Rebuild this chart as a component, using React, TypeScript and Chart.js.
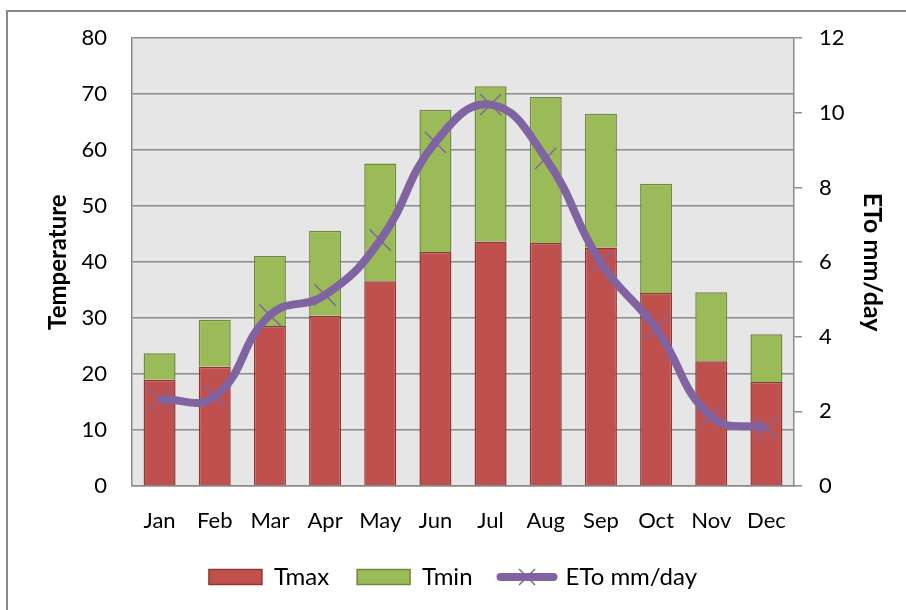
import { useEffect, useRef } from "react";
import { Chart, registerables } from "chart.js";
Chart.register(...registerables);

const months = ["Jan", "Feb", "Mar", "Apr", "May", "Jun", "Jul", "Aug", "Sep", "Oct", "Nov", "Dec"];
const tmax = [19.0, 21.3, 28.6, 30.4, 36.6, 41.8, 43.7, 43.4, 42.6, 34.5, 22.3, 18.6];
const tmin = [4.7, 8.4, 12.5, 15.2, 21.0, 25.4, 27.7, 26.1, 23.9, 19.5, 12.3, 8.5];
const eto = [2.32, 2.4, 4.58, 5.12, 6.59, 9.21, 10.22, 8.78, 5.98, 4.22, 1.86, 1.56];

const FONT = "Lato, 'Open Sans', sans-serif";
const GRID = "#8a8a8a";
const PURPLE = "#8064A2";

export default function App() {
  const ref = useRef<HTMLCanvasElement>(null);
  useEffect(() => {
    if (!ref.current) return;
    const bgPlugin = {
      id: "plotBg",
      beforeDraw(chart: any) {
        const { ctx, chartArea } = chart;
        ctx.save();
        ctx.fillStyle = "#E6E6E6";
        ctx.fillRect(chartArea.left, chartArea.top, chartArea.right - chartArea.left, chartArea.bottom - chartArea.top);
        ctx.restore();
      },
    };
    const legendMarker = {
      id: "legendMarker",
      afterDraw(chart: any) {
        const lg = chart.legend;
        if (!lg || !lg.legendHitBoxes || !lg.legendItems) return;
        const idx = lg.legendItems.findIndex((it: any) => it.datasetIndex === 2);
        const hb = lg.legendHitBoxes[idx];
        if (!hb) return;
        const cx = hb.left + 53 / 2;
        const cy = hb.top + hb.height / 2;
        const r = 8;
        const ctx = chart.ctx;
        ctx.save();
        ctx.strokeStyle = PURPLE;
        ctx.lineWidth = 1.5;
        ctx.beginPath();
        ctx.moveTo(cx - r, cy - r);
        ctx.lineTo(cx + r, cy + r);
        ctx.moveTo(cx - r, cy + r);
        ctx.lineTo(cx + r, cy - r);
        ctx.stroke();
        ctx.restore();
      },
    };
    const chart = new Chart(ref.current, {
      type: "bar",
      data: {
        labels: months,
        datasets: [
          {
            type: "bar",
            label: "Tmax",
            data: tmax,
            backgroundColor: "#C0504D",
            borderColor: "#8C3836",
            borderWidth: 1.5,
            yAxisID: "y",
            stack: "t",
            order: 2,
            barPercentage: 0.58,
            categoryPercentage: 1,
          },
          {
            type: "bar",
            label: "Tmin",
            data: tmin,
            backgroundColor: "#9BBB59",
            borderColor: "#71893F",
            borderWidth: 1.5,
            yAxisID: "y",
            stack: "t",
            order: 2,
            barPercentage: 0.58,
            categoryPercentage: 1,
          },
          {
            type: "line",
            label: "ETo mm/day",
            data: eto,
            borderColor: PURPLE,
            backgroundColor: PURPLE,
            borderWidth: 8,
            tension: 0.45,
            pointStyle: "crossRot",
            pointRadius: 15,
            pointBorderWidth: 1.5,
            pointBorderColor: PURPLE,
            yAxisID: "y1",
            order: 0,
          } as any,
        ],
      },
      options: {
        responsive: false,
        animation: false,
        layout: { padding: { top: 31, bottom: 11, left: 0, right: 0 } },
        font: { family: FONT },
        scales: {
          x: {
            stacked: true,
            grid: { display: false, drawTicks: false },
            border: { display: true, color: GRID, width: 1.5 },
            ticks: { color: "#000", font: { family: FONT, size: 22 }, padding: 22, maxRotation: 0 },
            afterFit: (axis: any) => { axis.height = 51; },
          },
          y: {
            stacked: true,
            position: "left",
            min: 0,
            max: 80,
            ticks: { stepSize: 10, color: "#000", font: { family: FONT, size: 22 }, padding: 25 },
            grid: { color: GRID, lineWidth: 1.5, drawTicks: false },
            border: { display: true, color: GRID, width: 1.5 },
            title: { display: true, text: "Temperature", color: "#000", font: { family: FONT, size: 24, weight: "bold" }, padding: { top: 44, bottom: 0 } },
            afterFit: (axis: any) => { axis.width = 132; },
          },
          y1: {
            position: "right",
            min: 0,
            max: 12,
            ticks: { stepSize: 2, color: "#000", font: { family: FONT, size: 22 }, padding: 17 },
            grid: { drawOnChartArea: false, color: GRID, lineWidth: 1.5, tickLength: 8, drawTicks: true },
            border: { display: true, color: GRID, width: 1.5 },
            title: { display: true, text: "ETo mm/day", color: "#000", font: { family: FONT, size: 25, weight: "bold" }, padding: { top: 19, bottom: 0 } },
            afterFit: (axis: any) => { axis.width = 112; },
          },
        },
        plugins: {
          tooltip: { enabled: false },
          legend: {
            position: "bottom",
            labels: {
              color: "#000",
              font: { family: FONT, size: 24 },
              usePointStyle: true,
              pointStyleWidth: 53,
              boxHeight: 15,
              padding: 28,
              sort: (a: any, b: any) => a.datasetIndex - b.datasetIndex,
              generateLabels: (c: any) => {
                const items = (Chart.defaults.plugins.legend.labels as any).generateLabels(c);
                return items.map((it: any) =>
                  it.datasetIndex === 2
                    ? { ...it, pointStyle: "line", lineWidth: 8, strokeStyle: PURPLE, lineCap: "round" }
                    : { ...it, pointStyle: "rect", lineWidth: 1.5 }
                );
              },
            },
          },
        },
      },
      plugins: [bgPlugin, legendMarker],
    } as any);
    return () => chart.destroy();
  }, []);
  return (
    <div style={{ position: "fixed", left: 0, top: 0, width: 906, height: 610, overflow: "hidden", background: "#fff" }}>
      <div style={{ position: "absolute", left: 6, top: 10, width: 1000, height: 700, border: "2px solid #888" }} />
      <canvas ref={ref} width={906} height={610} style={{ position: "absolute", left: 0, top: 0 }} />
    </div>
  );
}
